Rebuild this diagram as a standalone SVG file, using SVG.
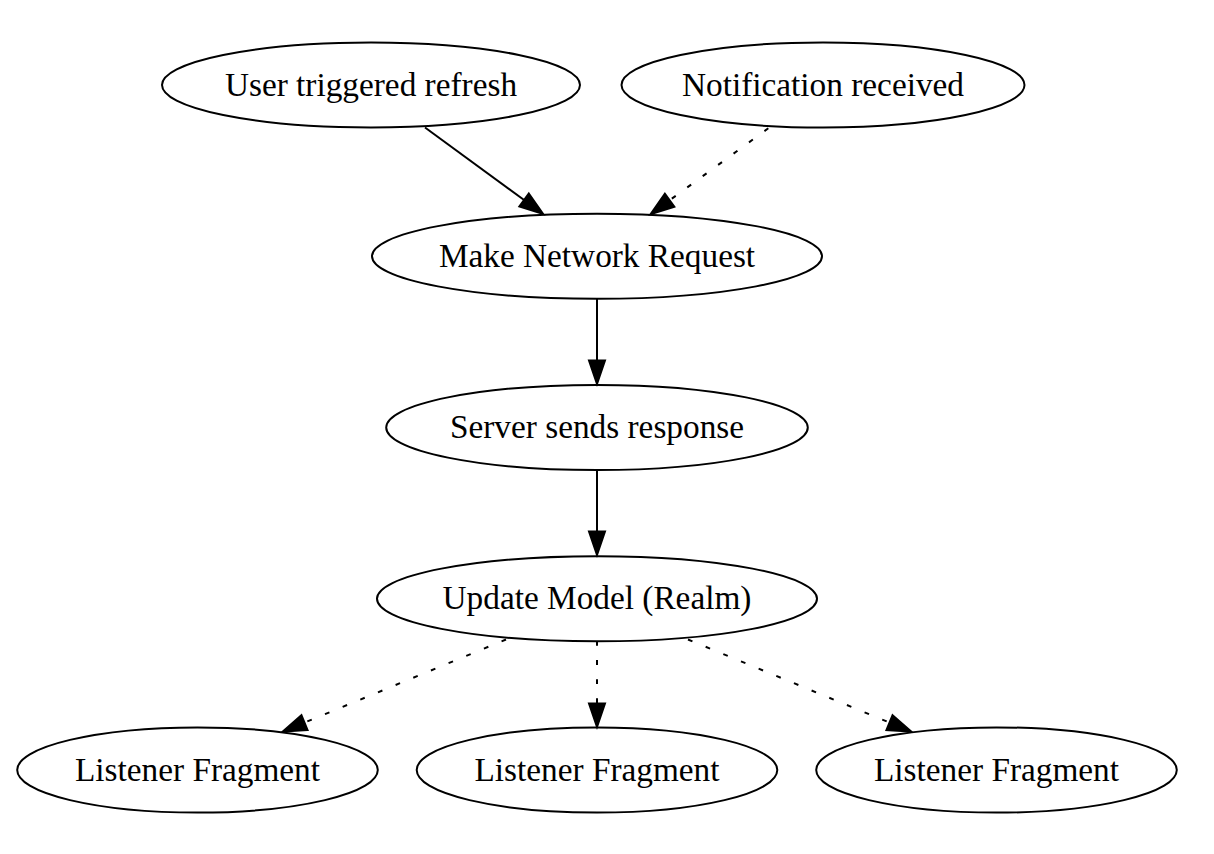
<svg xmlns="http://www.w3.org/2000/svg" width="1214" height="854" viewBox="0 0 1214 854">
<style>
.node ellipse{fill:none;stroke:#000;stroke-width:2}
.node text{font-family:"Liberation Serif","Times New Roman",serif;font-size:33.3px;text-anchor:middle;fill:#000}
.edge{fill:none;stroke:#000;stroke-width:2;marker-end:url(#arrow)}
.dotted{stroke-dasharray:4.8,14.3}
</style>
<defs>
<marker id="arrow" markerUnits="userSpaceOnUse" viewBox="0 0 24 17" markerWidth="24" markerHeight="17" refX="0" refY="8.5" orient="auto" overflow="visible">
<path d="M0,0.5 L23.5,8.5 L0,16.5 z" fill="#000" stroke="#000" stroke-width="2" stroke-dasharray="none"/>
</marker>
</defs>
<rect width="1214" height="854" fill="#fff"/>
<g id="connectors">
<path class="edge" d="M425,127.5 L524.1,200"/>
<path class="edge dotted" d="M768.3,128.3 L669.6,200.3"/>
<path class="edge" d="M597,299 L597,360.5"/>
<path class="edge" d="M597,470 L597,531.5"/>
<path class="edge dotted" d="M506,639.5 L304.5,722.6"/>
<path class="edge dotted" d="M597,641 L597,703.5"/>
<path class="edge dotted" d="M688,639.5 L889.5,722.6"/>
</g>
<g id="n1" class="node"><ellipse cx="371" cy="85" rx="209" ry="42.5"/><text x="371" y="95.5">User triggered refresh</text></g>
<g id="n2" class="node"><ellipse cx="823" cy="85" rx="201.5" ry="42.5"/><text x="823" y="95.5">Notification received</text></g>
<g id="n3" class="node"><ellipse cx="597" cy="256.25" rx="225" ry="42.6"/><text x="597" y="266.75">Make Network Request</text></g>
<g id="n4" class="node"><ellipse cx="597" cy="427.5" rx="210.8" ry="42.6"/><text x="597" y="438">Server sends response</text></g>
<g id="n5" class="node"><ellipse cx="597" cy="598.75" rx="220" ry="42.6"/><text x="597" y="609.25">Update Model (Realm)</text></g>
<g id="n6" class="node"><ellipse cx="197.5" cy="770" rx="180.3" ry="42.6"/><text x="197.5" y="780.5">Listener Fragment</text></g>
<g id="n7" class="node"><ellipse cx="597" cy="770" rx="180.3" ry="42.6"/><text x="597" y="780.5">Listener Fragment</text></g>
<g id="n8" class="node"><ellipse cx="996.5" cy="770" rx="180.3" ry="42.6"/><text x="996.5" y="780.5">Listener Fragment</text></g>
</svg>
